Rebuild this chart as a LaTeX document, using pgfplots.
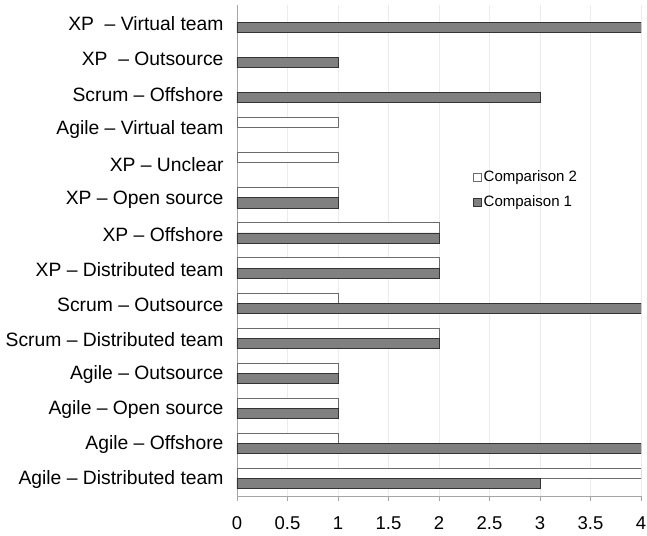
\documentclass[border=0pt]{standalone}
\usepackage{pgfplots}
\pgfplotsset{compat=1.18}
\usepackage{fontspec}
\setmainfont{Liberation Sans}
\begin{document}
\begin{tikzpicture}
\path[use as bounding box] (-237pt,-39pt) rectangle (410pt,496pt);
\begin{axis}[
  at={(0,0)}, anchor=south west,
  scale only axis, width=404pt, height=491pt,
  xmin=0, xmax=4, ymin=-0.5, ymax=13.5,
  xbar, bar width=0.29,
  axis lines=left, axis line style={-, draw=gray!70, line width=0.6pt},
  xtick={0,0.5,1,1.5,2,2.5,3,3.5,4},
  xticklabels={0,0.5,1,1.5,2,2.5,3,3.5,4},
  xmajorgrids, major grid style={draw=gray!15, line width=0.5pt},
  tick align=outside, major tick length=5pt,
  x tick style={draw=gray!70, line width=0.6pt},
  ytick={0,...,13},
  yticklabels={Agile -- Distributed team, Agile -- Offshore, Agile -- Open source, Agile -- Outsource, Scrum -- Distributed team, Scrum -- Outsource, XP -- Distributed team, XP -- Offshore, XP -- Open source, XP -- Unclear, Agile -- Virtual team, Scrum -- Offshore, XP\ \ -- Outsource, XP\ \ -- Virtual team},
  y tick style={draw=none},
  extra y ticks={-0.5,0.5,1.5,2.5,3.5,4.5,5.5,6.5,7.5,8.5,9.5,10.5,11.5,12.5,13.5},
  extra y tick labels={},
  extra y tick style={tick style={draw=gray!70, line width=0.6pt}, major tick length=5pt, grid=none},
  yticklabel style={font=\fontsize{19.3}{21}\selectfont, xshift=-5pt, yshift=-1.5pt},
  xticklabel style={font=\fontsize{18.5}{20}\selectfont, yshift=-12pt},
  legend style={at={(0.584,0.667)}, anchor=north west, draw=none, fill=none,
    font=\fontsize{15}{17}\selectfont, row sep=9pt, inner sep=0pt},
  legend cell align=left,
  legend image code/.code={\draw[#1, line width=0.6pt] (0pt,-4pt) rectangle (8pt,4pt);},
]
\addplot[fill=white, draw=gray!85!black, line width=0.8pt, bar shift=0.145] coordinates {
  (4,0) (1,1) (1,2) (1,3) (2,4) (1,5) (2,6) (2,7) (1,8) (1,9) (1,10)};
\addlegendentry{Comparison 2}
\addplot[fill=black!50, draw=black!80, line width=0.8pt, bar shift=-0.145] coordinates {
  (3,0) (4,1) (1,2) (1,3) (2,4) (4,5) (2,6) (2,7) (1,8) (3,11) (1,12) (4,13)};
\addlegendentry{Compaison 1}
\end{axis}
\end{tikzpicture}
\end{document}
